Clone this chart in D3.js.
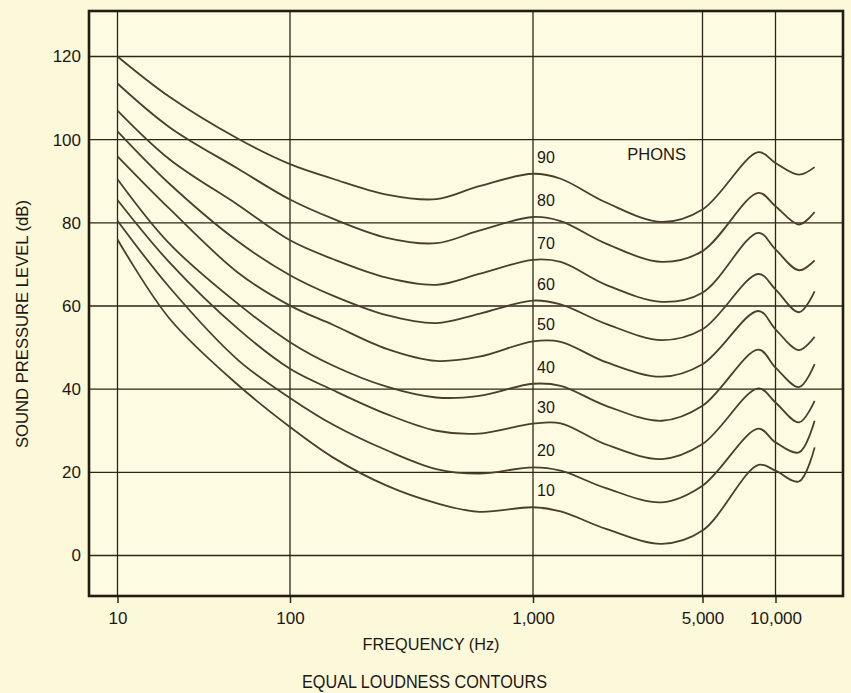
<!DOCTYPE html>
<html>
<head>
<meta charset="utf-8">
<script src="https://cdn.jsdelivr.net/npm/d3@7"></script>
<style>
  body { margin: 0; background: #fbf9da; }
  svg { display: block; font-family: "Liberation Sans", Arial, sans-serif; }
</style>
</head>
<body>
<div id="plot"></div>
<script>
// frequencies (Hz) the contours are read at
var freqs = [10, 20, 50, 100, 150, 250, 400, 600, 1000, 1300, 2000, 3400, 5000, 8500, 10000, 12500, 14500];

// sound pressure level (dB) of each contour, one per phon level
var phon90 = [120, 110.3, 100.2, 94.1, 90.6, 86.8, 85.7, 88.8, 91.8, 90.6, 84.9, 80.2, 83.2, 97.0, 94.4, 91.6, 93.4];
var phon80 = [113.5, 103, 93, 85.6, 81, 76.4, 75.1, 78.1, 81.4, 80.4, 75.0, 70.6, 73.2, 87.2, 84.0, 79.6, 82.6];
var phon70 = [107, 95.3, 84.3, 75.8, 71.3, 66.8, 65.1, 67.7, 71.1, 70.6, 65.1, 61.0, 63.2, 77.6, 73.6, 68.6, 71.0];
var phon60 = [102, 89.4, 75.5, 67.4, 62.5, 57.8, 55.9, 58.1, 61.3, 60.4, 55.7, 51.8, 54.4, 67.7, 64.0, 58.5, 63.5];
var phon50 = [96, 83.4, 68, 60.1, 55.5, 49.7, 46.8, 47.8, 51.5, 51.4, 46.5, 43.0, 46.0, 58.8, 54.4, 49.4, 52.6];
var phon40 = [90.5, 75, 60.5, 51.3, 45.7, 40.6, 38.0, 38.4, 41.3, 40.8, 36.0, 32.4, 36.0, 49.5, 45.2, 40.5, 46.0];
var phon30 = [85.5, 70.5, 54.5, 44.9, 39.8, 34.0, 30.0, 29.3, 31.7, 31.8, 26.7, 23.2, 26.8, 40.2, 36.8, 32.0, 37.2];
var phon20 = [80.5, 64.5, 47, 37.9, 31.5, 25.3, 20.8, 19.7, 21.2, 20.4, 16.2, 12.8, 16.8, 30.5, 27.2, 24.8, 32.4];
var phon10 = [76, 57, 41, 30.9, 23.6, 16.8, 12.6, 10.5, 11.6, 10.6, 6.4, 2.8, 6.0, 21.8, 20.4, 17.8, 26.0];

var levels = [90, 80, 70, 60, 50, 40, 30, 20, 10];
var curves = [phon90, phon80, phon70, phon60, phon50, phon40, phon30, phon20, phon10];

var xTicks = [10, 100, 1000, 5000, 10000];
var yTicks = [0, 20, 40, 60, 80, 100, 120];

var W = 851, H = 693;
// plot frame
var box = {left: 89, right: 843, top: 11, bottom: 596};

var ink = "#2e2516";

var svg = d3.select("#plot")
    .append("svg")
    .attr("width", W)
    .attr("height", H);

// hand drawn axis: the first decade is narrower than the others
var x = d3.scaleLog()
    .domain([10, 100, 1000, 10000])
    .range([117.5, 290, 533, 775.5]);

var y = d3.scaleLinear()
    .domain([0, 120])
    .range([555.5, 56.5]);

// plot background
svg.append("rect")
    .attr("x", box.left)
    .attr("y", box.top)
    .attr("width", box.right - box.left)
    .attr("height", box.bottom - box.top)
    .attr("fill", "#fdfce3");

// grid
svg.append("g")
    .selectAll("line")
    .data(yTicks)
    .enter()
    .append("line")
    .attr("x1", box.left)
    .attr("x2", box.right)
    .attr("y1", function(d) { return y(d); })
    .attr("y2", function(d) { return y(d); })
    .attr("stroke", ink)
    .attr("stroke-width", 1.3);

svg.append("g")
    .selectAll("line")
    .data(xTicks)
    .enter()
    .append("line")
    .attr("x1", function(d) { return x(d); })
    .attr("x2", function(d) { return x(d); })
    .attr("y1", box.top)
    .attr("y2", box.bottom)
    .attr("stroke", ink)
    .attr("stroke-width", 1.3);

// X axis
var xAxis = svg.append("g")
    .attr("transform", "translate(0," + box.bottom + ")")
    .call(d3.axisBottom(x)
        .tickValues(xTicks)
        .tickFormat(d3.format(","))
        .tickSize(7)
        .tickPadding(9));
xAxis.select(".domain").remove();
xAxis.selectAll("line").attr("stroke", ink).attr("stroke-width", 1.5);
xAxis.selectAll("text")
    .attr("fill", "#1c1710")
    .style("font-size", "17px")
    .style("font-family", "'Liberation Sans', Arial, sans-serif");

// Y axis
var yAxis = svg.append("g")
    .attr("transform", "translate(" + box.left + ",0)")
    .call(d3.axisLeft(y)
        .tickValues(yTicks)
        .tickSize(0)
        .tickPadding(8));
yAxis.select(".domain").remove();
yAxis.selectAll("text")
    .attr("fill", "#1c1710")
    .style("font-size", "17px")
    .style("font-family", "'Liberation Sans', Arial, sans-serif");

// frame
svg.append("rect")
    .attr("x", box.left)
    .attr("y", box.top)
    .attr("width", box.right - box.left)
    .attr("height", box.bottom - box.top)
    .attr("fill", "none")
    .attr("stroke", "#241c10")
    .attr("stroke-width", 2.6);

// contours
var line = d3.line()
    .x(function(d) { return x(d.f); })
    .y(function(d) { return y(d.v); })
    .curve(d3.curveCatmullRom.alpha(0.5));

var series = levels.map(function(lv, i) {
    return {
        level: lv,
        points: freqs.map(function(f, j) { return {f: f, v: curves[i][j]}; })
    };
});

svg.append("g")
    .selectAll("path")
    .data(series)
    .enter()
    .append("path")
    .attr("fill", "none")
    .attr("stroke", "#4b3f2b")
    .attr("stroke-width", 1.8)
    .attr("d", function(d) { return line(d.points); });

// phon labels, sitting just above each curve at 1 kHz
svg.append("g")
    .selectAll("text")
    .data(series)
    .enter()
    .append("text")
    .attr("x", x(1000) + 4)
    .attr("y", function(d) { return y(d.points[freqs.indexOf(1000)].v) - 11; })
    .attr("fill", "#1c1710")
    .style("font-size", "16px")
    .text(function(d) { return d.level; });

svg.append("text")
    .attr("x", x(2450))
    .attr("y", y(95))
    .attr("fill", "#1c1710")
    .style("font-size", "16.5px")
    .text("PHONS");

// axis titles
svg.append("text")
    .attr("x", 431)
    .attr("y", 650)
    .attr("text-anchor", "middle")
    .attr("fill", "#1c1710")
    .attr("textLength", 137)
    .attr("lengthAdjust", "spacingAndGlyphs")
    .style("font-size", "17px")
    .text("FREQUENCY (Hz)");

svg.append("text")
    .attr("transform", "translate(28,324) rotate(-90)")
    .attr("text-anchor", "middle")
    .attr("fill", "#1c1710")
    .attr("textLength", 248)
    .attr("lengthAdjust", "spacingAndGlyphs")
    .style("font-size", "16px")
    .text("SOUND PRESSURE LEVEL (dB)");

svg.append("text")
    .attr("x", 424.5)
    .attr("y", 688)
    .attr("text-anchor", "middle")
    .attr("fill", "#1c1710")
    .attr("textLength", 245)
    .attr("lengthAdjust", "spacingAndGlyphs")
    .style("font-size", "17.5px")
    .text("EQUAL LOUDNESS CONTOURS");
</script>
</body>
</html>
